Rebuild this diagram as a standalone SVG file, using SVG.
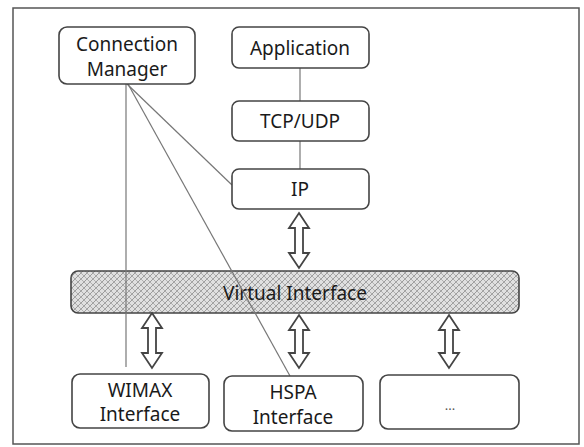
<svg xmlns="http://www.w3.org/2000/svg" width="584" height="447" viewBox="0 0 584 447">
<defs>
<pattern id="hatch" width="6" height="6" patternUnits="userSpaceOnUse">
<rect width="6" height="6" fill="#e0e0e0"/>
<path d="M0,6 L6,0 M-1,1 L1,-1 M5,7 L7,5" stroke="#939393" stroke-width="0.9"/>
<path d="M0,0 L6,6 M-1,5 L1,7 M5,-1 L7,1" stroke="#aaaaaa" stroke-width="0.9"/>
</pattern>
</defs>
<style>
.box{fill:#fff;stroke:#444;stroke-width:1.6}
.t{font-family:"Noto Sans","Open Sans",sans-serif;font-size:19px;fill:#1a1a1a;text-anchor:middle}
.ln{stroke:#777;stroke-width:1.2;fill:none}
.arr{fill:#fff;stroke:#444;stroke-width:1.8;stroke-linejoin:miter}
</style>
<rect x="13" y="8" width="566" height="436" fill="#fff" stroke="#555" stroke-width="1.5"/>

<g id="virtual-interface">
<rect x="71" y="271" width="448" height="42" rx="7" fill="url(#hatch)" stroke="#444" stroke-width="1.6"/>
<text class="t" x="295" y="300">Virtual Interface</text>
</g>

<g id="connectors">
<line class="ln" x1="300" y1="68" x2="300" y2="101"/>
<line class="ln" x1="300" y1="141" x2="300" y2="169"/>
<line class="ln" x1="126" y1="84" x2="126" y2="367"/>
<line class="ln" x1="127" y1="84" x2="232" y2="185"/>
<line class="ln" x1="128" y1="84" x2="290" y2="376"/>
<path class="arr" d="M299,213 L309,228 L303,228 L303,253 L309,253 L299,268 L289,253 L295,253 L295,228 L289,228 Z"/>
<path class="arr" d="M152,313 L162,328 L156,328 L156,353 L162,353 L152,368 L142,353 L148,353 L148,328 L142,328 Z"/>
<path class="arr" d="M299,315 L309,330 L303,330 L303,353 L309,353 L299,368 L289,353 L295,353 L295,330 L289,330 Z"/>
<path class="arr" d="M449,315 L459,330 L453,330 L453,353 L459,353 L449,368 L439,353 L445,353 L445,330 L439,330 Z"/>
</g>

<g id="connection-manager">
<rect class="box" x="59" y="27" width="136" height="57" rx="8"/>
<text class="t" x="127" y="51">Connection</text>
<text class="t" x="127" y="76">Manager</text>
</g>
<g id="application">
<rect class="box" x="232" y="27" width="137" height="41" rx="7"/>
<text class="t" x="300" y="55">Application</text>
</g>
<g id="tcp-udp">
<rect class="box" x="232" y="101" width="137" height="40" rx="7"/>
<text class="t" x="300" y="128">TCP/UDP</text>
</g>
<g id="ip">
<rect class="box" x="232" y="169" width="137" height="40" rx="7"/>
<text class="t" x="300" y="196">IP</text>
</g>
<g id="wimax">
<rect class="box" x="72" y="374" width="137" height="54" rx="8"/>
<text class="t" x="140" y="397">WIMAX</text>
<text class="t" x="140" y="421">Interface</text>
</g>
<g id="hspa">
<rect class="box" x="224" y="376" width="139" height="55" rx="8"/>
<text class="t" x="293" y="399">HSPA</text>
<text class="t" x="293" y="424">Interface</text>
</g>
<g id="more">
<rect class="box" x="380" y="375" width="139" height="54" rx="8"/>
<text class="t" x="450" y="410" style="font-size:13px;fill:#555">...</text>
</g>
</svg>
